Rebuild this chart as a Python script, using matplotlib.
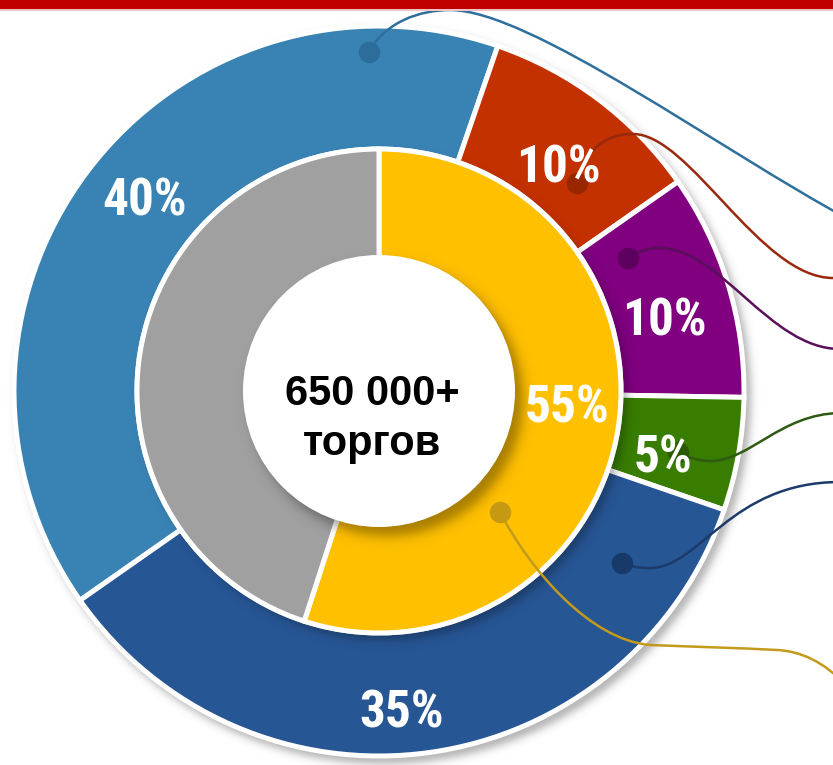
import numpy as np
import matplotlib
matplotlib.use("Agg")
import matplotlib.pyplot as plt
from matplotlib.path import Path
from matplotlib.patches import PathPatch, Circle, Rectangle
from matplotlib import font_manager
from matplotlib.font_manager import FontProperties

# ---------------- data ----------------
outer_shares = [40, 10, 10, 5, 35]
outer_colors = ["#3983B4", "#C43100", "#800080", "#387D00", "#275695"]
dot_colors_outer = ["#2C6D9B", "#9A2600", "#5E005E", "#2B5A06", "#173A6A"]
line_colors_outer = ["#2E6F9C", "#99290E", "#5A0F5A", "#2F5A12", "#1C3A6A"]

inner_shares = [55, 45]
inner_colors = ["#FFC000", "#A0A0A0"]
dot_color_inner = "#C59A12"
line_color_inner = "#C39A1C"

center_lines = ["650 000+", "торгов"]

# ---------------- layout (pixel coordinates, y measured from the top) ----------------
W, H = 833, 765
CX, CY = 379, 391
R_OUT, R_MID, R_IN, R_HOLE = 365, 242, 128, 136
EDGE = 3.6  # white separator width, points

outer_label_pos = [(145, 215), (558, 182), (664, 335), (663, 472), (402, 728)]
inner_label_pos = [(567, 422), None]

# leader curves: start point followed by groups of three bezier points
outer_leaders = [
    [(369, 52), (385, 22), (420, 10), (450, 10), (530, 10), (720, 150), (850, 220)],
    [(577, 183), (585, 150), (605, 134), (633, 134), (690, 134), (760, 278), (833, 278)],
    [(628, 258), (640, 250), (650, 248), (660, 248), (720, 248), (770, 349), (840, 349)],
    [(678, 452), (688, 458), (700, 461), (710, 461), (750, 461), (780, 414), (840, 413)],
    [(622, 563), (630, 567), (640, 568), (650, 568), (700, 568), (730, 482), (840, 482)],
]
inner_leaders = [
    [(500, 512), (530, 570), (590, 640), (650, 645), (700, 647), (740, 648), (777, 650),
     (800, 651), (825, 662), (845, 685)],
    None,
]


def fy(y):
    return H - y


# condensed bold face for the percentage labels, if one is installed
fonts = font_manager.fontManager.ttflist
names = {f.name for f in fonts}
label_font = None
for cand in ["Liberation Sans Narrow", "Arial Narrow", "Roboto Condensed",
             "Open Sans Condensed", "DejaVu Sans Condensed"]:
    if cand in names:
        label_font = FontProperties(family=cand, weight="bold")
        break
if label_font is None:
    for pref in ["Liberation Sans", "Roboto", "Open Sans", "Noto Sans", "DejaVu Sans"]:
        hits = [f for f in fonts if f.name == pref and f.stretch in ("condensed", "semi-condensed")]
        if hits:
            label_font = FontProperties(family=pref, weight="bold", stretch=hits[0].stretch)
            break
label_size = 37
if label_font is None:
    label_font = FontProperties(family="Liberation Sans", weight="bold")
    label_size = 32
label_font.set_size(label_size)

center_family = ["Liberation Sans", "DejaVu Sans"]

fig = plt.figure(figsize=(W / 100, H / 100), dpi=100)
ax = fig.add_axes([0, 0, 1, 1])

# soft drop shadows
yy, xx = np.mgrid[0:H, 0:W] + 0.5


def soft_disc(cx, cy, r, soft):
    d = np.hypot(xx - cx, yy - cy)
    return 0.5 * (1 + np.tanh((r - d) / soft))


def shadow(alpha, z):
    rgba = np.zeros((H, W, 4))
    rgba[..., 3] = alpha
    ax.imshow(rgba, extent=(0, W, 0, H), origin="upper", zorder=z, interpolation="bilinear")


shadow(0.30 * soft_disc(CX + 5, CY + 6, R_OUT + 2, 5), 0.5)

# outer ring
wedges_out, _ = ax.pie(
    outer_shares, colors=outer_colors, startangle=215, counterclock=False,
    radius=R_OUT, center=(CX, fy(CY)),
    wedgeprops=dict(width=R_OUT - R_MID, edgecolor="white", linewidth=EDGE),
)
for w in wedges_out:
    w.set_zorder(1)

shadow(0.30 * soft_disc(CX + 6, CY + 7, R_MID, 6), 1.5)

# inner ring
wedges_in, _ = ax.pie(
    inner_shares, colors=inner_colors, startangle=90, counterclock=False,
    radius=R_MID, center=(CX, fy(CY)),
    wedgeprops=dict(width=R_MID - R_IN, edgecolor="white", linewidth=EDGE),
)
for w in wedges_in:
    w.set_zorder(2)

shadow(0.35 * soft_disc(CX + 8, CY + 9, R_HOLE, 7), 2.5)
ax.add_patch(Circle((CX, fy(CY)), R_HOLE, fc="white", ec="none", zorder=3))


def leader(points, color, dot_color):
    verts = [(x, fy(y)) for x, y in points]
    codes = [Path.MOVETO] + [Path.CURVE4] * (len(verts) - 1)
    ax.add_patch(PathPatch(Path(verts, codes), fc="none", ec=color, lw=1.8, zorder=4,
                           capstyle="round"))
    ax.scatter([verts[0][0]], [verts[0][1]], s=240, color=dot_color, zorder=5, linewidths=0)


for pts, lc, dc in zip(outer_leaders, line_colors_outer, dot_colors_outer):
    leader(pts, lc, dc)
for pts in inner_leaders:
    if pts is not None:
        leader(pts, line_color_inner, dot_color_inner)

# value labels
for v, pos in zip(outer_shares, outer_label_pos):
    ax.text(pos[0], fy(pos[1]), f"{v}%", color="white", fontproperties=label_font,
            ha="center", va="baseline", zorder=6)
for v, pos in zip(inner_shares, inner_label_pos):
    if pos is not None:
        ax.text(pos[0], fy(pos[1]), f"{v}%", color="white", fontproperties=label_font,
                ha="center", va="baseline", zorder=6)

# centre caption
ax.text(372, fy(405), center_lines[0], color="black", fontsize=30, fontweight="bold",
        family=center_family, ha="center", va="baseline", zorder=6)
ax.text(372, fy(455), center_lines[1], color="black", fontsize=30, fontweight="bold",
        family=center_family, ha="center", va="baseline", zorder=6)

# header band
ax.add_patch(Rectangle((0, fy(8.5)), W, 8.5, fc="#C00000", ec="none", zorder=10))
ax.add_patch(Rectangle((0, fy(10.5)), W, 2, fc="#EDC3C3", ec="none", zorder=10))

ax.set_xlim(0, W)
ax.set_ylim(0, H)
ax.set_aspect("equal")
ax.axis("off")

fig.savefig("out.png", dpi=100)
